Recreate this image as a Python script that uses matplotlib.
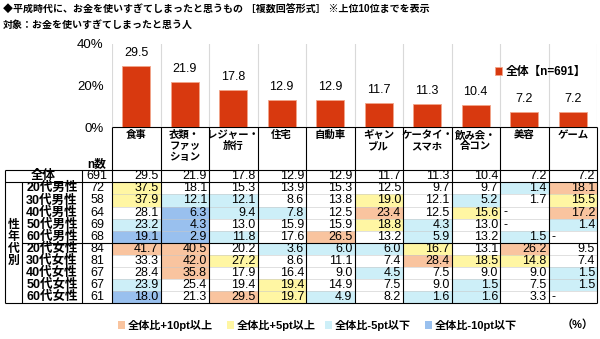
import matplotlib.pyplot as plt
from matplotlib.patches import Rectangle
from matplotlib.ticker import FuncFormatter

plt.rcParams['font.family'] = ['Liberation Sans', 'Noto Sans CJK JP']

# ---- data ----
title1 = "◆平成時代に、お金を使いすぎてしまったと思うもの ［複数回答形式］ ※上位10位までを表示"
title2 = "対象：お金を使いすぎてしまったと思う人"

categories = ["食事", "衣類・\nファッ\nション", "レジャー・\n旅行", "住宅", "自動車",
              "ギャン\nブル", "ケータイ・\nスマホ", "飲み会・\n合コン", "美容", "ゲーム"]
total_label = "全体"
total_n = 691
total_vals = [29.5, 21.9, 17.8, 12.9, 12.9, 11.7, 11.3, 10.4, 7.2, 7.2]

groups = ["20代男性", "30代男性", "40代男性", "50代男性", "60代男性",
          "20代女性", "30代女性", "40代女性", "50代女性", "60代女性"]
group_n = [72, 58, 64, 69, 68, 84, 81, 67, 67, 61]
N = None  # "-" (0件)
group_vals = [
    [37.5, 18.1, 15.3, 13.9, 15.3, 12.5, 9.7, 9.7, 1.4, 18.1],
    [37.9, 12.1, 12.1, 8.6, 13.8, 19.0, 12.1, 5.2, 1.7, 15.5],
    [28.1, 6.3, 9.4, 7.8, 12.5, 23.4, 12.5, 15.6, N, 17.2],
    [23.2, 4.3, 13.0, 15.9, 15.9, 18.8, 4.3, 13.0, N, 1.4],
    [19.1, 2.9, 11.8, 17.6, 26.5, 13.2, 5.9, 13.2, 1.5, N],
    [41.7, 40.5, 20.2, 3.6, 6.0, 6.0, 16.7, 13.1, 26.2, 9.5],
    [33.3, 42.0, 27.2, 8.6, 11.1, 7.4, 28.4, 18.5, 14.8, 7.4],
    [28.4, 35.8, 17.9, 16.4, 9.0, 4.5, 7.5, 9.0, 9.0, 1.5],
    [23.9, 25.4, 19.4, 19.4, 14.9, 7.5, 9.0, 1.5, 7.5, 1.5],
    [18.0, 21.3, 29.5, 19.7, 4.9, 8.2, 1.6, 1.6, 3.3, N],
]
unmarked = [(1, 8)]  # 30代男性・美容 is left uncoloured in the original

side_label = "性年代別"
legend_labels = ["全体比+10pt以上", "全体比+5pt以上", "全体比-5pt以下", "全体比-10pt以下"]

# ---- styles / layout (pixels) ----
bar_color = "#D8390F"
hl_colors = {2: "#F9C49F", 1: "#FFF6A3", -1: "#CDEFF8", -2: "#99C0EE"}

W, H = 600, 339
X0, X1, X2, X3, XR = 5, 22, 82, 112, 597
colw = (XR - X3) / len(categories)
Y_top, Y_head, Y_all = 127, 170, 182.3
rowh = 12.1
Y_bot = Y_all + rowh * len(groups)
fs = 9


def level(v, base):
    if v is None:
        return 0
    d = round(v - base, 1)
    if d >= 10:
        return 2
    if d >= 5:
        return 1
    if d <= -10:
        return -2
    if d <= -5:
        return -1
    return 0


fig = plt.figure(figsize=(6, 3.39), dpi=100)
tab = fig.add_axes([0, 0, 1, 1])
tab.set_xlim(0, W)
tab.set_ylim(H, 0)
tab.axis('off')

# titles
tab.text(3, 10, title1, fontsize=7.2, fontweight='bold', va='center')
tab.text(3, 25, title2, fontsize=7.2, fontweight='bold', va='center')

# ---- bar chart ----
ax = fig.add_axes([X3 / W, 1 - Y_top / H, (XR - X3) / W, (Y_top - 44) / H])
x = range(len(categories))
bars = ax.bar(x, total_vals, width=0.57, color=bar_color, edgecolor="#F2A58A", linewidth=0.6,
              label=f"{total_label}【n={total_n}】")
ax.bar_label(bars, fmt='%.1f', padding=5, fontsize=9)
ax.set_xlim(-0.5, len(categories) - 0.5)
ax.set_ylim(0, 40)
ax.set_yticks([0, 20, 40])
ax.yaxis.set_major_formatter(FuncFormatter(lambda v, p: f"{v:.0f}%"))
ax.set_xticks([])
ax.set_xticks([k - 0.5 for k in range(len(categories) + 1)], minor=True)
ax.tick_params(axis='y', length=0, pad=6, labelsize=9.5)
ax.tick_params(axis='x', which='minor', length=0)
ax.grid(which='minor', axis='x', color="#D9D9D9", linewidth=0.8)
for s in ax.spines.values():
    s.set_visible(False)
ax.set_facecolor('none')
ax.legend(loc='upper right', bbox_to_anchor=(1.0, 0.86), frameon=False,
          handlelength=0.6, handleheight=0.6, handletextpad=0.3,
          prop={'size': 8.5, 'weight': 'bold'})

# ---- table ----
# header
for j, c in enumerate(categories):
    tab.text(X3 + (j + 0.5) * colw, Y_top + 3, c, ha='center', va='top',
             fontsize=7.5, fontweight='bold', linespacing=1.15)
tab.text((X2 + X3) / 2, Y_head - 6, "n数", ha='center', va='center',
         fontsize=8.5, fontweight='bold')

# 全体 row
yc = (Y_head + Y_all) / 2
tab.text((X0 + X2) / 2, yc, total_label, ha='center', va='center', fontsize=fs, fontweight='bold')
tab.text((X2 + X3) / 2, yc, str(total_n), ha='center', va='center', fontsize=fs)
for j, v in enumerate(total_vals):
    tab.text(X3 + (j + 1) * colw - 2, yc, f"{v:.1f}", ha='right', va='center', fontsize=fs)

# group rows
for i, (g, n, vals) in enumerate(zip(groups, group_n, group_vals)):
    y0 = Y_all + i * rowh
    yc = y0 + rowh / 2
    tab.text((X1 + X2) / 2, yc, g, ha='center', va='center', fontsize=fs, fontweight='bold')
    tab.text((X2 + X3) / 2, yc, str(n), ha='center', va='center', fontsize=fs)
    for j, v in enumerate(vals):
        lv = 0 if (i, j) in unmarked else level(v, total_vals[j])
        if lv:
            tab.add_patch(Rectangle((X3 + j * colw, y0), colw, rowh,
                                    facecolor=hl_colors[lv], edgecolor='none'))
        if v is None:
            tab.text(X3 + j * colw + 3, yc, "-", ha='left', va='center', fontsize=fs)
        else:
            tab.text(X3 + (j + 1) * colw - 2, yc, f"{v:.1f}", ha='right', va='center', fontsize=fs)
    if i > 0:
        tab.hlines(y0, X3, XR, color="#C8C8C8", linewidth=0.4)

# side label
mid = (Y_all + Y_bot) / 2
for k, ch in enumerate(side_label):
    tab.text((X0 + X1) / 2, mid + (k - 1.5) * 12, ch, ha='center', va='center',
             fontsize=8.5, fontweight='bold')

# table rules
lk = dict(color='black', linewidth=0.8)
tab.hlines(Y_top, X3, XR, **lk)
tab.hlines([Y_head, Y_all, Y_bot], X0, XR, **lk)
tab.hlines(Y_all + 5 * rowh, X1, XR, **lk)
tab.vlines([X3 + k * colw for k in range(len(categories) + 1)], Y_top, Y_bot, **lk)
tab.vlines([X0, X2], Y_head, Y_bot, **lk)
tab.vlines(X1, Y_all, Y_bot, **lk)

# bottom legend
lx = [118, 227, 325, 425]
for lab, x0, lv in zip(legend_labels, lx, [2, 1, -1, -2]):
    tab.add_patch(Rectangle((x0, 321), 7, 8, facecolor=hl_colors[lv], edgecolor='none'))
    tab.text(x0 + 10, 325, lab, ha='left', va='center', fontsize=8, fontweight='bold')
tab.text(594, 325, "（%）", ha='right', va='center', fontsize=8, fontweight='bold')

fig.savefig("out.png", dpi=100)
